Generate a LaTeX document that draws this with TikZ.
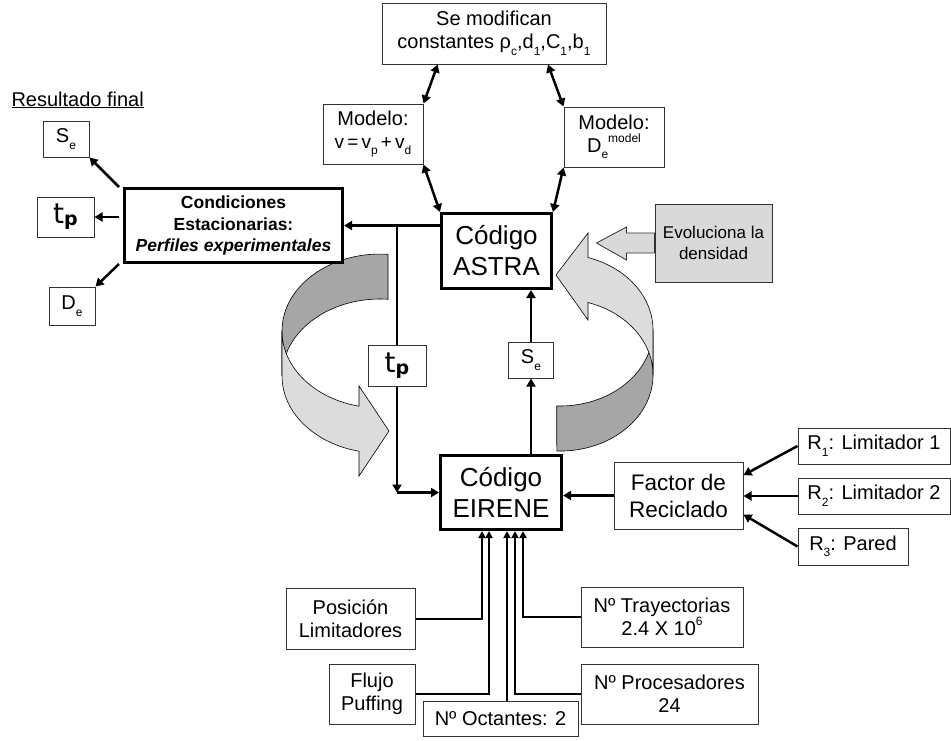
\documentclass[tikz,border=0pt]{standalone}
\usepackage{fontspec}
\setmainfont{Liberation Sans}
\newfontfamily\dejavu{DejaVu Sans}
\usetikzlibrary{arrows.meta, calc}
\definecolor{ribdark}{HTML}{A6A6A6}
\definecolor{riblight}{HTML}{DCDCDC}
\definecolor{evofill}{HTML}{D9D9D9}
\newcommand{\fsz}[2]{\fontsize{#1}{#2}\selectfont}
\newcommand{\lowtx}[1]{\raisebox{-0.33em}{\fsz{12}{12}#1}}
\newcommand{\hightx}[1]{\raisebox{0.5em}{\fsz{12}{12}#1}}

\begin{document}
\begin{tikzpicture}[x=1pt, y=-1pt,
  every node/.style={font=\fsz{20}{23}},
  plainbox/.style={rectangle, draw=black!80, line width=1pt, fill=white, align=center, inner sep=0pt},
  codebox/.style={rectangle, draw=black, line width=3pt, fill=white, align=center, inner sep=0pt, font=\fsz{26}{31}},
  link/.style={line width=2.5pt, -{Triangle[length=8pt, width=9pt]}},
  dlink/.style={line width=2.5pt, {Triangle[length=8pt, width=9pt]}-{Triangle[length=8pt, width=9pt]}},
  inlink/.style={line width=2pt, -{Triangle[length=7pt, width=7pt]}},
  ribdarkst/.style={fill=ribdark, draw=black, line width=0.6pt},
  riblightst/.style={fill=riblight, draw=black, line width=0.6pt},
]
\useasboundingbox (0,0) rectangle (951,740);

% ribbons
\path[ribdarkst] (388,254.3) arc[start angle=-85.3, end angle=-180, x radius=98, y radius=77]
  -- (282,376) arc[start angle=180, end angle=274.7, x radius=98, y radius=77] -- cycle;
\path[riblightst] (282,331) arc[start angle=180, end angle=102.4, x radius=98, y radius=77]
  -- (359,386) -- (389,431) -- (359,476) -- (359,451.2)
  arc[start angle=102.4, end angle=180, x radius=98, y radius=77] -- cycle;
\path[ribdarkst] (653,330) arc[start angle=0, end angle=92, x radius=93, y radius=76]
  -- (556.8,451) arc[start angle=92, end angle=0, x radius=93, y radius=76] -- cycle;
\path[riblightst] (653,330) arc[start angle=0, end angle=-72.5, x radius=93, y radius=76]
  -- (588,233) -- (556,275) -- (588,320) -- (588,302.5)
  arc[start angle=-72.5, end angle=0, x radius=93, y radius=76] -- cycle;

\node[plainbox, minimum width=224pt, minimum height=61pt] (mod) at (494,33.5) {Se modifican\\constantes ρ\lowtx{c},d\lowtx{1},C\lowtx{1},b\lowtx{1}};
\node[plainbox, minimum width=100pt, minimum height=60pt] (modv) at (373,134) {Modelo:\\{\fsz{19}{21}v\,=\,v\lowtx{p}\,+\,v\lowtx{d}}};
\node[plainbox, minimum width=100pt, minimum height=60pt] (modd) at (614,137) {Modelo:\\D\lowtx{e}\hightx{model}};
\node[codebox, minimum width=110pt, minimum height=75pt] (astra) at (496.5,251) {Código\\ASTRA};
\node[codebox, minimum width=218pt, minimum height=74pt, font=\fsz{17.5}{21.5}\bfseries] (cond) at (233.5,225.5) {Condiciones\\Estacionarias:\\\textit{Perfiles experimentales}};

\node[anchor=base west] (resfin) at (8,106) {\underline{Resultado final}};
\node[plainbox, minimum width=46pt, minimum height=36pt] (ser) at (66,139) {S\lowtx{e}};
\node[plainbox, minimum width=57pt, minimum height=40pt] (tpr) at (65.5,217) {{\dejavu\fsz{28}{28}t\raisebox{-2pt}{\fsz{19}{19}\bfseries p}}};
\node[plainbox, minimum width=46pt, minimum height=38pt] (der) at (72,306) {D\lowtx{e}};

\node[plainbox, minimum width=58pt, minimum height=41pt] (tpm) at (397,365.5) {{\dejavu\fsz{28}{28}t\raisebox{-2pt}{\fsz{19}{19}\bfseries p}}};
\node[plainbox, minimum width=45pt, minimum height=36pt] (sem) at (531,360) {S\lowtx{e}};
\node[plainbox, fill=evofill, minimum width=117pt, minimum height=78pt, font=\fsz{17}{21}] (evo) at (713.5,243) {Evoluciona la\\densidad};

\node[codebox, minimum width=121pt, minimum height=74pt] (eir) at (501,492.5) {Código\\EIRENE};
\node[plainbox, minimum width=129pt, minimum height=67pt, font=\fsz{22.5}{27}] (fac) at (678.5,495.5) {Factor de\\Reciclado};
\node[plainbox, minimum width=152pt, minimum height=36pt] (rone) at (874,446) {R\lowtx{1}: Limitador 1};
\node[plainbox, minimum width=152pt, minimum height=36pt] (rtwo) at (874,496) {R\lowtx{2}: Limitador 2};
\node[plainbox, minimum width=110pt, minimum height=37pt] (rthree) at (853,546.5) {R\lowtx{3}: Pared};

\node[plainbox, minimum width=129pt, minimum height=61pt] (pos) at (350.5,619) {Posición\\Limitadores};
\node[plainbox, minimum width=86pt, minimum height=60pt] (flu) at (372,694) {Flujo\\Puffing};
\node[plainbox, minimum width=155pt, minimum height=35pt] (oct) at (500.5,718.5) {Nº Octantes: 2};
\node[plainbox, minimum width=162pt, minimum height=60pt] (tra) at (662,617) {Nº Trayectorias\\2.4 X 10\hightx{6}};
\node[plainbox, minimum width=177pt, minimum height=60pt] (pro) at (669.5,694) {Nº Procesadores\\24};

% evolucion arrow
\path[draw=black!80, line width=0.8pt, fill=evofill] ($(evo.west)+(0,-10)$) -- ++(-28,0) -- ++(0,-6)
  -- ($(evo.west)+(-58,0)$) -- ($(evo.west)+(-28,17)$) -- ++(0,-7) -- ($(evo.west)+(0,10)$) -- cycle;

\draw[dlink] ($(mod.south west)!0.25!(mod.south east)$) -- (modv.north east);
\draw[dlink] ($(mod.south west)!0.74!(mod.south east)$) -- (modd.north west);
\draw[dlink] (modv.south east) -- (astra.north west);
\draw[dlink] (modd.south west) -- (astra.north east);

\draw[link] (cond.east -| astra.west) -- (cond.east);
\draw[line width=2.5pt] (cond.east -| tpm.north) -- (tpm.north);
\coordinate (tpc) at (tpm.south |- eir.west);
\draw[link] (tpm.south) -- (tpc);
\draw[link] (tpc) -- (eir.west);
\draw[link] (eir.north -| sem.south) -- (sem.south);
\draw[link] (sem.north) -- (sem.north |- astra.south);

\draw[link] ($(cond.north west)+(-4,0)$) -- (ser.south east);
\draw[link] ($(cond.west |- tpr.east)+(-4,0)$) -- (tpr.east);
\draw[link] ($(cond.south west)+(-4,0)$) -- (der.north east);

\draw[link] (fac.west) -- (fac.west -| eir.east);
\draw[link] (rone.west) -- ($(fac.north east)!0.2!(fac.south east)$);
\draw[link] (rtwo.west) -- (rtwo.west -| fac.east);
\draw[link] (rthree.west) -- ($(fac.north east)!0.78!(fac.south east)$);

\coordinate (ein1) at ($(eir.south)+(-19,0)$);
\coordinate (ein2) at ($(eir.south)+(-12,0)$);
\coordinate (ein3) at ($(eir.south)+(6,0)$);
\coordinate (ein4) at ($(eir.south)+(14,0)$);
\coordinate (ein5) at ($(eir.south)+(22,0)$);
\draw[inlink] (pos.east) -| (ein1);
\draw[inlink] (flu.east) -| (ein2);
\draw[inlink] (oct.north -| ein3) -- (ein3);
\draw[inlink] (pro.west) -| (ein4);
\draw[inlink] (tra.west) -| (ein5);
\end{tikzpicture}
\end{document}
